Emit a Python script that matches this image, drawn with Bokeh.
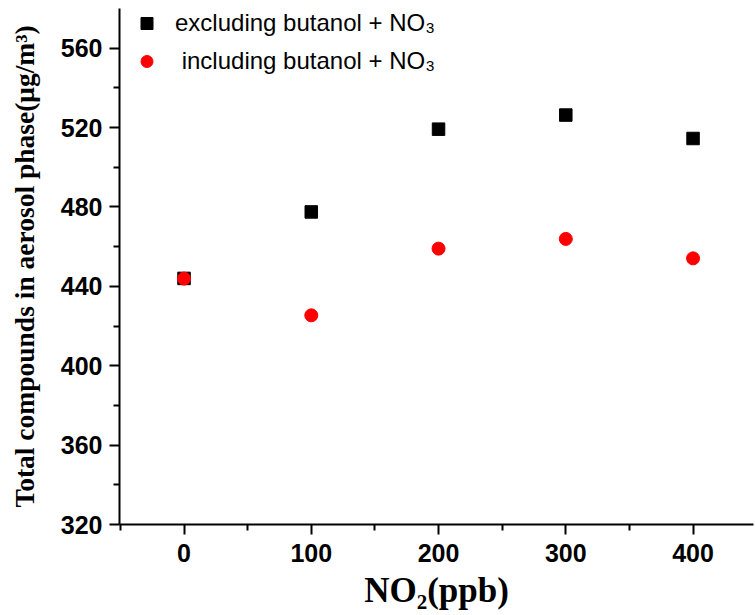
from bokeh.plotting import figure
from bokeh.models import Range1d, FixedTicker, Legend
from bokeh.embed import file_html
from bokeh.resources import INLINE

# ---- data ----
no2_ppb = [0, 100, 200, 300, 400]
excluding = [444.0, 477.5, 519.2, 526.3, 514.5]
including = [443.9, 425.4, 459.0, 463.9, 454.1]

x_major = [0, 100, 200, 300, 400]
x_minor = [-50, 50, 150, 250, 350, 450]
y_major = [320, 360, 400, 440, 480, 520, 560]
y_minor = [340, 380, 420, 460, 500, 540]

label_excl = "excluding butanol + NO\u2083"
label_incl = "\u00a0including butanol + NO\u2083"
y_title = "Total compounds in aerosol phase(\u03bcg/m\u00b3)"
x_title = "NO\u2082(ppb)"

p = figure(width=755, height=615, output_backend="svg", toolbar_location=None,
           x_range=Range1d(-50.7, 447.5), y_range=Range1d(320, 580),
           min_border_left=119, min_border_right=2, min_border_top=8,
           min_border_bottom=91)
p.outline_line_color = None
p.xgrid.grid_line_color = None
p.ygrid.grid_line_color = None
p.background_fill_color = "white"
p.border_fill_color = "white"

r1 = p.scatter(no2_ppb, excluding, marker="square", size=12.5, color="black")
r2 = p.scatter(no2_ppb, including, marker="circle", size=13, color="#ff0000")

legend = Legend(items=[(label_excl, [r1]), (label_incl, [r2])], location="top_left")
legend.background_fill_alpha = 0
legend.border_line_color = None
legend.margin = 0
legend.padding = 0
legend.glyph_width = 55
legend.glyph_height = 30
legend.label_height = 30
legend.spacing = 8
legend.label_standoff = 1
legend.label_text_font = "Liberation Sans"
legend.label_text_font_size = "24px"
legend.label_text_color = "black"
p.add_layout(legend, "center")

for ax in (p.xaxis[0], p.yaxis[0]):
    ax.axis_line_width = 2
    ax.major_tick_line_width = 2
    ax.minor_tick_line_width = 2
    ax.major_tick_out = 10
    ax.major_tick_in = 0
    ax.minor_tick_out = 6
    ax.minor_tick_in = 0
    ax.major_label_text_font = "Liberation Sans"
    ax.major_label_text_font_style = "bold"
    ax.major_label_text_font_size = "25px"
    ax.major_label_text_color = "black"
    ax.axis_label_text_color = "black"
    ax.axis_label_text_font = "Liberation Serif"
    ax.axis_label_text_font_style = "bold"

p.xaxis.ticker = FixedTicker(ticks=x_major, minor_ticks=x_minor)
p.yaxis.ticker = FixedTicker(ticks=y_major, minor_ticks=y_minor)
p.xaxis.major_label_standoff = 9
p.yaxis.major_label_standoff = 7

p.yaxis.axis_label = y_title
p.yaxis.axis_label_text_font_size = "27.5px"
p.yaxis.axis_label_standoff = 18

p.xaxis.axis_label = x_title
p.xaxis.axis_label_text_font_size = "35px"
p.xaxis.axis_label_standoff = 6

open("out.html", "w").write(file_html(p, INLINE))
